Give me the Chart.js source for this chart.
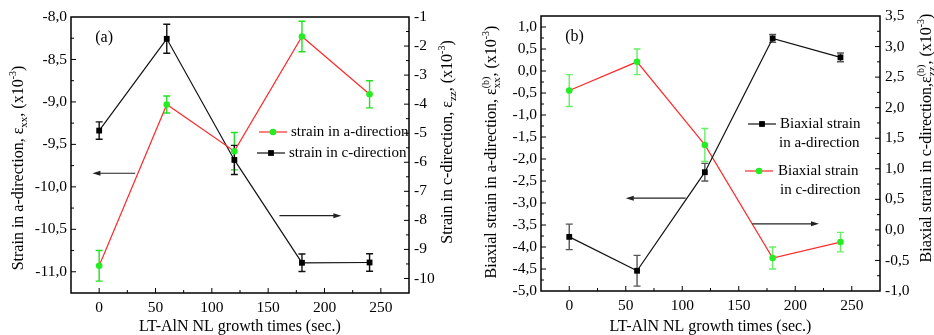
<!DOCTYPE html>
<html>
<head>
<meta charset="utf-8">
<script src="https://cdn.jsdelivr.net/npm/chart.js@4.4.0/dist/chart.umd.min.js"></script>
<style>
body { margin: 0; background: #fff; }
#wrap { position: relative; width: 934px; height: 335px; }
canvas { position: absolute; top: 0; }
#chartA { left: 0; }
#chartB { left: 467px; }
</style>
</head>
<body>
<div id="wrap">
  <canvas id="chartA" width="467" height="335"></canvas>
  <canvas id="chartB" width="467" height="335"></canvas>
</div>
<script>
// growth times (sec.)
const growthTimes = [0, 60, 120, 180, 240]

// panel (a)
const strainA = [-10.93, -9.03, -9.58, -8.23, -8.91]
const strainAErr = [0.18, 0.10, 0.22, 0.18, 0.16]
const strainC = [-4.91, -1.75, -5.92, -9.46, -9.45]
const strainCErr = [0.30, 0.50, 0.50, 0.30, 0.30]

// panel (b)
const biaxA = [-3.77, -4.54, -2.30, 0.74, 0.31]
const biaxAErr = [0.29, 0.35, 0.20, 0.09, 0.10]
const biaxC = [2.28, 2.75, 1.39, -0.46, -0.20]
const biaxCErr = [0.26, 0.21, 0.27, 0.18, 0.16]

const xTickLabels = [0, 50, 100, 150, 200, 250]

const FONT = 'Liberation Serif'
Chart.defaults.font.family = FONT
Chart.defaults.color = '#000'

const font = (size) => `${size}px "${FONT}"`
const points = (xs, ys) => xs.map((x, i) => ({ x: x, y: ys[i] }))
const isHalf = v => Math.abs(v * 2 - Math.round(v * 2)) < 1e-6
const isInt = v => Math.abs(v - Math.round(v)) < 1e-6
const commaLabel = v => isHalf(v) ? (Math.abs(v) < 1e-9 ? 0 : v).toFixed(1).replace('.', ',') : ''

// texte avec indices / exposants
function drawRich(ctx, segs, cx, cy, angle) {
    ctx.save()
    ctx.translate(cx, cy)
    ctx.rotate(angle)
    ctx.fillStyle = '#000'
    ctx.textBaseline = 'alphabetic'
    ctx.textAlign = 'left'
    const widths = segs.map(s => {
        let w = 0
        if (s.t !== undefined) { ctx.font = font(16); w = ctx.measureText(s.t).width }
        if (s.sup !== undefined) { ctx.font = font(10); w = Math.max(w, ctx.measureText(s.sup).width) }
        if (s.sub !== undefined) { ctx.font = font(11); w = Math.max(w, ctx.measureText(s.sub).width) }
        return w
    })
    const total = widths.reduce((a, b) => a + b, 0)
    let x = -total / 2
    const base = 5.5
    segs.forEach((s, i) => {
        if (s.t !== undefined) { ctx.font = font(16); ctx.fillText(s.t, x, base) }
        if (s.sup !== undefined) { ctx.font = font(10); ctx.fillText(s.sup, x, base - 7) }
        if (s.sub !== undefined) { ctx.font = font(11); ctx.fillText(s.sub, x, base + 4) }
        x += widths[i]
    })
    ctx.restore()
}

function drawArrow(ctx, x1, x2, y) {
    ctx.save()
    ctx.strokeStyle = '#222'
    ctx.fillStyle = '#222'
    ctx.lineWidth = 1.2
    const dir = Math.sign(x2 - x1)
    ctx.beginPath()
    ctx.moveTo(x1, y)
    ctx.lineTo(x2 - dir * 4, y)
    ctx.stroke()
    ctx.beginPath()
    ctx.moveTo(x2, y)
    ctx.lineTo(x2 - dir * 8, y - 2.5)
    ctx.lineTo(x2 - dir * 8, y + 2.5)
    ctx.closePath()
    ctx.fill()
    ctx.restore()
}

function drawMarker(ctx, style, x, y, color) {
    ctx.fillStyle = color
    ctx.beginPath()
    if (style === 'circle') ctx.arc(x, y, 3.3, 0, Math.PI * 2)
    else ctx.rect(x - 2.9, y - 2.9, 5.8, 5.8)
    ctx.fill()
}

// barres d'erreur
const errorBars = {
    id: 'errorBars',
    beforeDatasetsDraw(chart) {
        const ctx = chart.ctx
        ctx.save()
        chart.data.datasets.forEach((ds, i) => {
            const meta = chart.getDatasetMeta(i)
            const scale = chart.scales[ds.yAxisID]
            ctx.strokeStyle = ds.errColor
            ctx.lineWidth = 1.4
            meta.data.forEach((pt, j) => {
                const v = ds.data[j].y
                const e = ds.errors[j]
                const yt = scale.getPixelForValue(v + e)
                const yb = scale.getPixelForValue(v - e)
                ctx.beginPath()
                ctx.moveTo(pt.x, yt); ctx.lineTo(pt.x, yb)
                ctx.moveTo(pt.x - 3.5, yt); ctx.lineTo(pt.x + 3.5, yt)
                ctx.moveTo(pt.x - 3.5, yb); ctx.lineTo(pt.x + 3.5, yb)
                ctx.stroke()
            })
        })
        ctx.restore()
    }
}

// cadre, graduations, titres, légende, flèches
const decorations = {
    id: 'decorations',
    afterDraw(chart) {
        const deco = chart.config.options.deco
        const ctx = chart.ctx
        const area = chart.chartArea
        ctx.save()
        ctx.strokeStyle = '#000'
        ctx.lineWidth = 1.5
        ctx.strokeRect(area.left, area.top, area.right - area.left, area.bottom - area.top)

        ctx.lineWidth = 1
        const drawTicks = (scale, isMajor, side) => {
            scale.ticks.forEach(t => {
                if (Math.abs(t.value - scale.min) < 1e-9 || Math.abs(t.value - scale.max) < 1e-9) return
                const p = scale.getPixelForValue(t.value)
                const len = isMajor(t.value) ? 5 : 3
                ctx.beginPath()
                if (side === 'bottom') { ctx.moveTo(p, area.bottom); ctx.lineTo(p, area.bottom - len) }
                if (side === 'left') { ctx.moveTo(area.left, p); ctx.lineTo(area.left + len, p) }
                if (side === 'right') { ctx.moveTo(area.right, p); ctx.lineTo(area.right - len, p) }
                ctx.stroke()
            })
        }
        drawTicks(chart.scales.x, v => v % 50 === 0, 'bottom')
        drawTicks(chart.scales.y, deco.leftMajor, 'left')
        drawTicks(chart.scales.y1, deco.rightMajor, 'right')

        drawRich(ctx, deco.leftTitle, deco.leftTitlePos[0], deco.leftTitlePos[1], -Math.PI / 2)
        drawRich(ctx, deco.rightTitle, deco.rightTitlePos[0], deco.rightTitlePos[1], -Math.PI / 2)
        drawRich(ctx, [{ t: 'LT-AlN NL growth times (sec.)' }], (area.left + area.right) / 2, 325, 0)

        // légende
        deco.legend.forEach(item => {
            ctx.strokeStyle = item.lineColor
            ctx.lineWidth = 1.2
            ctx.beginPath()
            ctx.moveTo(item.x, item.y)
            ctx.lineTo(item.x + 28, item.y)
            ctx.stroke()
            drawMarker(ctx, item.marker, item.x + 14, item.y, item.markerColor)
            ctx.fillStyle = '#000'
            ctx.font = font(15)
            ctx.textBaseline = 'middle'
            ctx.textAlign = 'left'
            item.lines.forEach((txt, k) => ctx.fillText(txt, item.tx + (k ? item.dx2 : 0), item.y + k * 19))
        })

        // flèches
        deco.arrows.forEach(a => {
            const xs = chart.scales.x
            const ys = chart.scales[a.axis]
            drawArrow(ctx, xs.getPixelForValue(a.from), xs.getPixelForValue(a.to), ys.getPixelForValue(a.y))
        })

        ctx.fillStyle = '#000'
        ctx.font = font(16)
        ctx.textBaseline = 'middle'
        ctx.textAlign = 'left'
        ctx.fillText(deco.panel.text, chart.scales.x.getPixelForValue(deco.panel.x), chart.scales.y.getPixelForValue(deco.panel.y))
        ctx.restore()
    }
}

function makeScales(opts) {
    const tickFont = { family: FONT, size: 15.5 }
    return {
        x: {
            type: 'linear', min: -25, max: 275,
            afterFit: s => { s.height = opts.xHeight },
            grid: { display: false, drawTicks: false },
            border: { display: false },
            ticks: {
                stepSize: 25, maxTicksLimit: 100, autoSkip: false, maxRotation: 0, padding: 6, font: tickFont,
                callback: v => xTickLabels.includes(v) ? String(v) : ''
            }
        },
        y: {
            type: 'linear', position: 'left', min: opts.left[0], max: opts.left[1],
            afterFit: s => { s.width = opts.leftWidth },
            grid: { display: false, drawTicks: false },
            border: { display: false },
            ticks: { stepSize: 0.25, maxTicksLimit: 100, autoSkip: false, padding: 4, font: tickFont, callback: opts.leftLabel }
        },
        y1: {
            type: 'linear', position: 'right', min: opts.right[0], max: opts.right[1],
            afterFit: s => { s.width = opts.rightWidth },
            grid: { display: false, drawTicks: false },
            border: { display: false },
            ticks: { stepSize: opts.rightStep, maxTicksLimit: 100, autoSkip: false, padding: 5, font: tickFont, callback: opts.rightLabel }
        }
    }
}

const baseOptions = {
    responsive: false,
    animation: false,
    events: [],
    plugins: { legend: { display: false }, tooltip: { enabled: false } }
}

// graphique (a)
new Chart(document.getElementById('chartA').getContext('2d'), {
    type: 'line',
    data: {
        datasets: [
            {
                label: 'strain in a-direction', data: points(growthTimes, strainA), errors: strainAErr, yAxisID: 'y',
                borderColor: '#ff2a2a', borderWidth: 1.2, tension: 0,
                pointStyle: 'circle', pointRadius: 3.3, pointBackgroundColor: '#22ee22', pointBorderColor: '#22ee22', pointBorderWidth: 0,
                errColor: '#22e022'
            },
            {
                label: 'strain in c-direction', data: points(growthTimes, strainC), errors: strainCErr, yAxisID: 'y1',
                borderColor: '#111', borderWidth: 1.2, tension: 0,
                pointStyle: 'rect', pointRadius: 4.1, pointBackgroundColor: '#000', pointBorderColor: '#000', pointBorderWidth: 0,
                errColor: '#111'
            }
        ]
    },
    options: {
        ...baseOptions,
        layout: { padding: { top: 17, left: 0, right: 0, bottom: 0 } },
        scales: makeScales({
            xHeight: 42, leftWidth: 71, rightWidth: 58,
            left: [-11.25, -8.0], right: [-10.5, -1], rightStep: 0.5,
            leftLabel: commaLabel,
            rightLabel: v => isInt(v) ? String(Math.round(v)) : ''
        }),
        deco: {
            leftMajor: isHalf, rightMajor: isInt,
            leftTitle: [{ t: 'Strain in a-direction, ε' }, { sub: 'xx' }, { t: ', (x10' }, { sup: '-3' }, { t: ')' }],
            leftTitlePos: [17, 168],
            rightTitle: [{ t: 'Strain in c-direction, ε' }, { sub: 'zz' }, { t: ', (x10' }, { sup: '-3' }, { t: ')' }],
            rightTitlePos: [446, 142],
            legend: [
                { x: 259, y: 132, tx: 291, dx2: 0, marker: 'circle', markerColor: '#22ee22', lineColor: '#ff2a2a', lines: ['strain in a-direction'] },
                { x: 257, y: 153, tx: 289, dx2: 0, marker: 'rect', markerColor: '#000', lineColor: '#111', lines: ['strain in c-direction'] }
            ],
            arrows: [
                { axis: 'y', from: 32, to: -6, y: -9.84 },
                { axis: 'y1', from: 160, to: 215, y: -7.84 }
            ],
            panel: { text: '(a)', x: -3.5, y: -8.25 }
        }
    },
    plugins: [errorBars, decorations]
})

// graphique (b)
new Chart(document.getElementById('chartB').getContext('2d'), {
    type: 'line',
    data: {
        datasets: [
            {
                label: 'Biaxial strain in a-direction', data: points(growthTimes, biaxA), errors: biaxAErr, yAxisID: 'y',
                borderColor: '#111', borderWidth: 1.2, tension: 0,
                pointStyle: 'rect', pointRadius: 4.1, pointBackgroundColor: '#000', pointBorderColor: '#000', pointBorderWidth: 0,
                errColor: '#555'
            },
            {
                label: 'Biaxial strain in c-direction', data: points(growthTimes, biaxC), errors: biaxCErr, yAxisID: 'y1',
                borderColor: '#ff2a2a', borderWidth: 1.2, tension: 0,
                pointStyle: 'circle', pointRadius: 3.3, pointBackgroundColor: '#22ee22', pointBorderColor: '#22ee22', pointBorderWidth: 0,
                errColor: '#66ee66'
            }
        ]
    },
    options: {
        ...baseOptions,
        layout: { padding: { top: 16, left: 0, right: 0, bottom: 0 } },
        scales: makeScales({
            xHeight: 44, leftWidth: 74, rightWidth: 54,
            left: [-5, 1.25], right: [-1, 3.5], rightStep: 0.25,
            leftLabel: commaLabel, rightLabel: commaLabel
        }),
        deco: {
            leftMajor: isHalf, rightMajor: isHalf,
            leftTitle: [{ t: 'Biaxial strain in a-direction, ε' }, { sup: '(b)', sub: 'xx' }, { t: ', (x10' }, { sup: '-3' }, { t: ')' }],
            leftTitlePos: [23, 152],
            rightTitle: [{ t: 'Biaxial strain in c-direction,ε' }, { sup: '(b)', sub: 'zz' }, { t: ', (x10' }, { sup: '-3' }, { t: ')' }],
            rightTitlePos: [458, 138],
            legend: [
                { x: 281, y: 124, tx: 313, dx2: -1, marker: 'rect', markerColor: '#000', lineColor: '#111', lines: ['Biaxial strain', 'in a-direction'] },
                { x: 278, y: 171, tx: 311, dx2: 2, marker: 'circle', markerColor: '#22ee22', lineColor: '#ff2a2a', lines: ['Biaxial strain', 'in c-direction'] }
            ],
            arrows: [
                { axis: 'y', from: 103, to: 50, y: -2.89 },
                { axis: 'y1', from: 162, to: 221, y: 0.10 }
            ],
            panel: { text: '(b)', x: -3.5, y: 0.77 }
        }
    },
    plugins: [errorBars, decorations]
})
</script>
</body>
</html>
